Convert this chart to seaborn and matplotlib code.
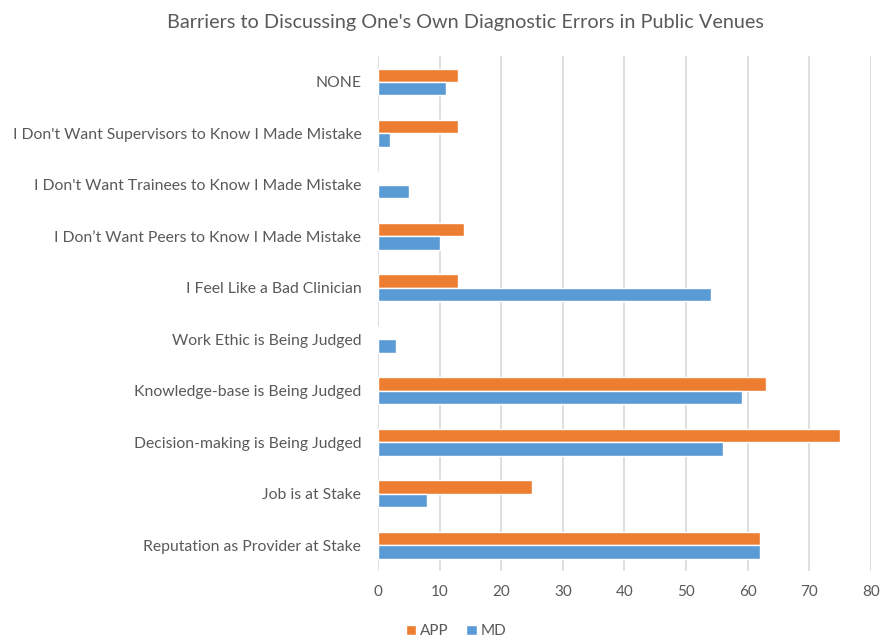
import matplotlib
matplotlib.use("Agg")
import matplotlib.pyplot as plt
import seaborn as sns
import pandas as pd

categories = [
    "NONE",
    "I Don't Want Supervisors to Know I Made Mistake",
    "I Don't Want Trainees to Know I Made Mistake",
    "I Don\u2019t Want Peers to Know I Made Mistake",
    "I Feel Like a Bad Clinician",
    "Work Ethic is Being Judged",
    "Knowledge-base is Being Judged",
    "Decision-making is Being Judged",
    "Job is at Stake",
    "Reputation as Provider at Stake",
]
app_values = [13, 13, 0, 14, 13, 0, 63, 75, 25, 62]
md_values = [11, 2, 5, 10, 54, 3, 59, 56, 8, 62]
series = ["APP", "MD"]
x_ticks = [0, 10, 20, 30, 40, 50, 60, 70, 80]
title = "Barriers to Discussing One's Own Diagnostic Errors in Public Venues"

df = pd.DataFrame({
    "category": categories * 2,
    "value": app_values + md_values,
    "group": [series[0]] * len(categories) + [series[1]] * len(categories),
})

sns.set_theme(style="white")
plt.rcParams["font.family"] = ["Lato", "DejaVu Sans"]
text_color = "#595959"

fig = plt.figure(figsize=(8.8, 6.38), dpi=100)
ax = fig.add_axes([0.4295, 0.105, 0.5602, 0.807])

sns.barplot(
    data=df, y="category", x="value", hue="group",
    hue_order=series, order=categories,
    palette=["#ED7D31", "#5B9BD5"], width=0.52,
    saturation=1, ax=ax, legend=True,
)

ax.set_xlim(0, 80)
ax.set_xticks(x_ticks)
ax.set_xticklabels([str(t) for t in x_ticks])
ax.xaxis.grid(True, color="#D9D9D9", linewidth=1.2)
ax.set_axisbelow(True)
for s in ax.spines.values():
    s.set_visible(False)
ax.set_xlabel("")
ax.set_ylabel("")
ax.tick_params(axis="x", length=0, pad=10, labelsize=11, labelcolor=text_color)
ax.tick_params(axis="y", length=0, pad=12, labelsize=11.3, labelcolor=text_color)

ax.get_legend().remove()
handles, labels = ax.get_legend_handles_labels()
fig.legend(
    handles, labels, loc="lower center", bbox_to_anchor=(0.518, -0.022),
    ncol=2, frameon=False, handlelength=0.7, handleheight=0.7,
    handletextpad=0.2, columnspacing=1.2, fontsize=11,
    labelcolor=text_color,
)

fig.text(0.529, 0.965, title, ha="center", va="center",
         fontsize=14.3, color=text_color)

fig.savefig("out.png", dpi=100)
